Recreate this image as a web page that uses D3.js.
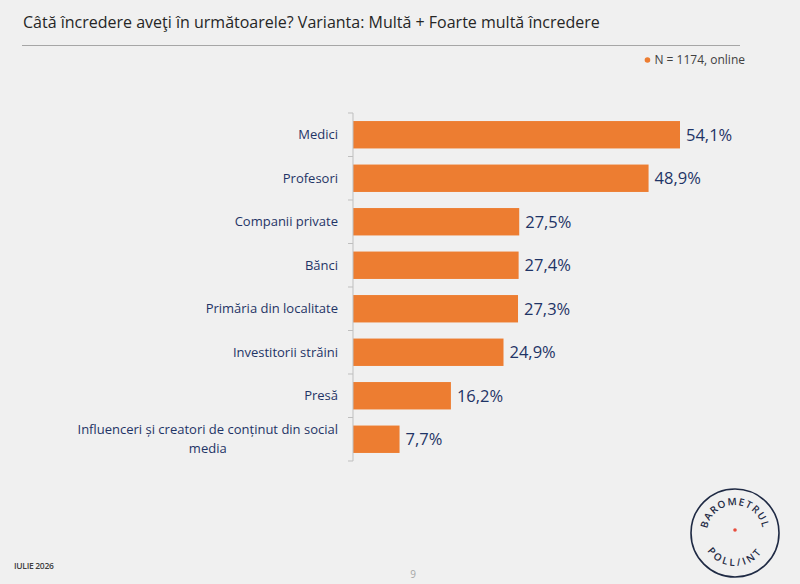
<!DOCTYPE html>
<html>
<head>
<meta charset="utf-8">
<script src="https://cdn.jsdelivr.net/npm/d3@7"></script>
<style>
  body { margin: 0; background: #f0f0f0; }
  svg { display: block; font-family: "Open Sans", "Noto Sans", sans-serif; }
</style>
</head>
<body>
<div id="chart"></div>
<script>
// categories and values (percent)
const categories = [
    "Medici",
    "Profesori",
    "Companii private",
    "Bănci",
    "Primăria din localitate",
    "Investitorii străini",
    "Presă",
    "Influenceri și creatori de conținut din social media"
];
const values = [54.1, 48.9, 27.5, 27.4, 27.3, 24.9, 16.2, 7.7];

const title = "Câtă încredere aveţi în următoarele? Varianta: Multă + Foarte multă încredere";
const sampleNote = "N = 1174, online";
const footerDate = "IULIE 2026";
const pageNo = "9";

const width = 800, height = 584;
const navy = "#1f3466";
const orange = "#ed7d31";

const svg = d3.select("#chart").append("svg")
    .attr("width", width)
    .attr("height", height);

svg.append("rect").attr("width", width).attr("height", height).attr("fill", "#f0f0f0");

/* header */
svg.append("text")
    .attr("x", 23)
    .attr("y", 28)
    .attr("fill", "#262626")
    .style("font-size", "16px")
    .text(title);

svg.append("line")
    .attr("x1", 22).attr("x2", 740)
    .attr("y1", 45.5).attr("y2", 45.5)
    .attr("stroke", "#a6a6a6")
    .attr("stroke-width", 1);

let note = svg.append("text")
    .attr("x", 745)
    .attr("y", 64)
    .attr("text-anchor", "end")
    .attr("fill", "#404040")
    .style("font-size", "12px")
    .text(sampleNote);
let noteW = note.node().getComputedTextLength();
svg.append("circle")
    .attr("cx", 745 - noteW - 7)
    .attr("cy", 60)
    .attr("r", 2.8)
    .attr("fill", orange);

/* scales */
const x0 = 353;
const xScale = d3.scaleLinear()
    .domain([0, 54.1])
    .range([x0, 680]);

const yScale = d3.scaleBand()
    .domain(categories)
    .range([113, 461])
    .paddingInner(0.37)
    .paddingOuter(0.185);

const data = categories.map((c, i) => ({ name: c, value: values[i] }));

/* bars */
svg.append("g")
    .selectAll("rect")
    .data(data).enter()
    .append("rect")
    .attr("x", x0)
    .attr("y", d => yScale(d.name))
    .attr("width", d => xScale(d.value) - x0)
    .attr("height", yScale.bandwidth())
    .attr("fill", orange);

/* value labels */
const fmt = v => v.toFixed(1).replace(".", ",") + "%";
svg.append("g")
    .selectAll("text")
    .data(data).enter()
    .append("text")
    .attr("x", d => xScale(d.value) + 6)
    .attr("y", d => yScale(d.name) + yScale.bandwidth() / 2)
    .attr("dy", "0.36em")
    .attr("fill", navy)
    .style("font-size", "16.5px")
    .text(d => fmt(d.value));

/* axis line with ticks at band edges */
const step = yScale.step();
const axis = svg.append("g").attr("class", "y axis");
axis.append("line")
    .attr("x1", x0).attr("x2", x0)
    .attr("y1", 113).attr("y2", 461)
    .attr("stroke", "#bfbfbf");
axis.selectAll(".tick")
    .data(d3.range(categories.length + 1)).enter()
    .append("line")
    .attr("x1", x0 - 5).attr("x2", x0)
    .attr("y1", i => 113 + i * step)
    .attr("y2", i => 113 + i * step)
    .attr("stroke", "#bfbfbf");

/* category labels, wrapped when too long */
const labelRight = 338, maxW = 265;
const labels = svg.append("g")
    .style("font-size", "13px")
    .attr("fill", navy);
data.forEach(d => {
    let cy = yScale(d.name) + yScale.bandwidth() / 2;
    let t = labels.append("text").attr("x", labelRight).attr("text-anchor", "end").text(d.name);
    if (t.node().getComputedTextLength() <= maxW) {
        t.attr("y", cy).attr("dy", "0.36em");
        return;
    }
    // wrap words into lines
    t.remove();
    let words = d.name.split(" "), lines = [], cur = [];
    let probe = labels.append("text");
    words.forEach(w => {
        probe.text(cur.concat(w).join(" "));
        if (probe.node().getComputedTextLength() > maxW && cur.length) {
            lines.push(cur.join(" "));
            cur = [w];
        } else cur.push(w);
    });
    lines.push(cur.join(" "));
    probe.text(lines[0]);
    let w0 = probe.node().getComputedTextLength();
    probe.remove();
    let cx = labelRight - w0 / 2, lh = 19;
    lines.forEach((ln, j) => {
        labels.append("text")
            .attr("x", cx)
            .attr("y", cy + (j - (lines.length - 1) / 2) * lh)
            .attr("dy", "0.36em")
            .attr("text-anchor", "middle")
            .text(ln);
    });
});

/* footer */
svg.append("text")
    .attr("x", 14).attr("y", 569)
    .attr("fill", "#404040")
    .style("font-size", "8.5px")
    .style("font-weight", "600")
    .style("letter-spacing", "-0.3px")
    .text(footerDate);
svg.append("text")
    .attr("x", 413).attr("y", 578)
    .attr("text-anchor", "middle")
    .attr("fill", "#a6a6a6")
    .style("font-size", "10px")
    .text(pageNo);

/* stamp logo */
const lx = 735, ly = 533, lr = 44;
const ink = "#1f2a44";
const logo = svg.append("g").attr("transform", `translate(${lx},${ly})`);
logo.append("circle").attr("r", lr).attr("fill", "none").attr("stroke", ink).attr("stroke-width", 1.6);
logo.append("circle").attr("cy", -3).attr("r", 1.8).attr("fill", "#e84c3d");
let rIn = 28;
logo.append("path").attr("id", "arcTop")
    .attr("d", `M ${-rIn},0 A ${rIn},${rIn} 0 0,1 ${rIn},0`)
    .attr("fill", "none");
let rB = 33;
logo.append("path").attr("id", "arcBot")
    .attr("d", `M ${-rB},0 A ${rB},${rB} 0 0,0 ${rB},0`)
    .attr("fill", "none");
logo.append("text")
    .attr("fill", ink)
    .style("font-size", "10px")
    .style("font-weight", "600")
    .style("letter-spacing", "1.2px")
    .append("textPath").attr("href", "#arcTop").attr("startOffset", "50%").attr("text-anchor", "middle")
    .text("BAROMETRUL");
logo.append("text")
    .attr("fill", ink)
    .style("font-size", "10px")
    .style("font-weight", "600")
    .style("letter-spacing", "2.6px")
    .append("textPath").attr("href", "#arcBot").attr("startOffset", "50%").attr("text-anchor", "middle")
    .text("POLL/INT");
</script>
</body>
</html>
